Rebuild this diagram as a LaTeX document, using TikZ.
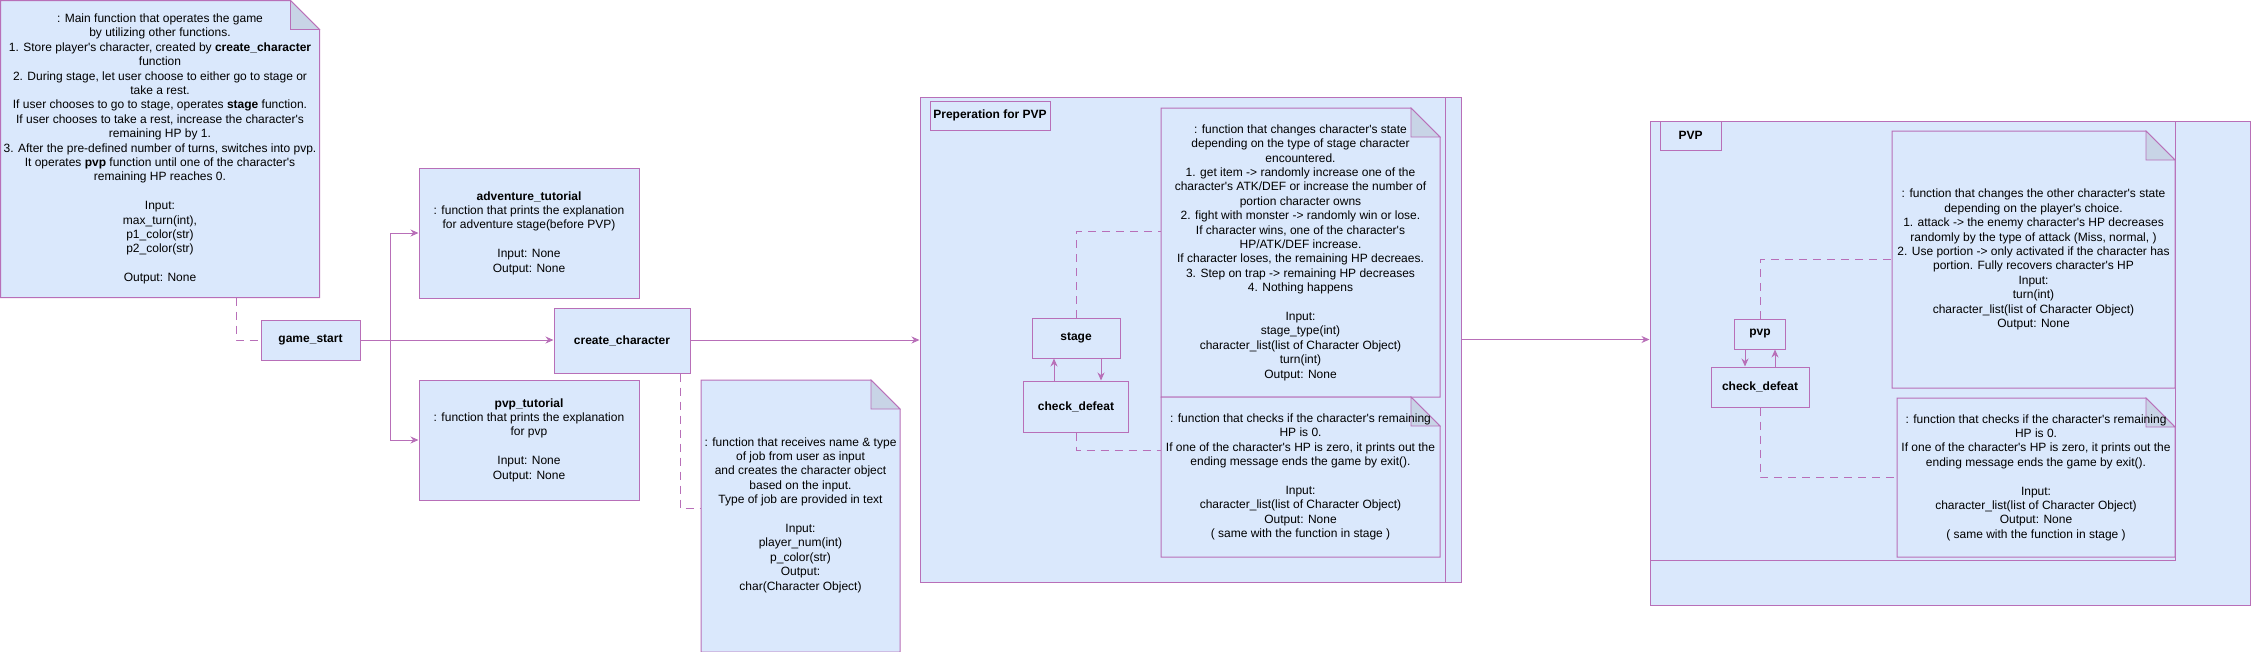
\documentclass[tikz,border=0pt]{standalone}
\usepackage{fontspec}
\setmainfont{Liberation Sans}[Ligatures=TeXOff]
\usetikzlibrary{arrows.meta, positioning}
\definecolor{fnfill}{HTML}{DAE8FC}
\definecolor{fnline}{HTML}{B86FB8}
\definecolor{fnfold}{HTML}{C8D4E6}

\tikzset{
  fbox/.style={draw=fnline, fill=fnfill, line width=1pt, inner sep=0pt, align=center},
  fname/.style={fbox, font=\fontsize{12}{14.4}\selectfont\bfseries},
  lane/.style={draw=fnline, fill=fnfill, line width=1pt, inner sep=0pt},
  notearea/.style={inner sep=0pt, outer sep=0pt},
  notetext/.style={align=center, inner sep=0pt},
  flow/.style={draw=fnline, line width=1pt, -{Stealth[length=8pt,width=7pt]}},
  link/.style={draw=fnline, line width=1pt, dash pattern=on 8pt off 6pt},
}

% note outline with folded corner, drawn round an empty node
\newcommand{\foldnote}[1]{%
  \filldraw[draw=fnline, fill=fnfill, line width=1pt]
    (#1.south west) -- (#1.north west) -- ([xshift=-29pt]#1.north east)
    -- ([yshift=-29pt]#1.north east) -- (#1.south east) -- cycle;
  \filldraw[draw=fnline, fill=fnfold, line width=0.8pt]
    ([xshift=-29pt]#1.north east) -- ([xshift=-29pt,yshift=-29pt]#1.north east)
    -- ([yshift=-29pt]#1.north east) -- cycle;
}

\begin{document}
\begin{tikzpicture}[x=1pt, y=-1pt, font=\fontsize{12}{14.4}\selectfont]
  \useasboundingbox (0,0) rectangle (2251,651);

  % Containers
  \node[lane, minimum width=541pt, minimum height=485pt] (prepouter) at (1190.5,339.5) {};
  \node[lane, minimum width=525pt, minimum height=485pt] (prep) at (1182.5,339.5) {};
  \node[fname, minimum width=120pt, minimum height=29pt] (preplabel) at (990,115.5) {Preperation for PVP};

  \node[lane, minimum width=600pt, minimum height=484pt] (pvpouter) at (1950,363) {};
  \node[lane, minimum width=525pt, minimum height=439pt] (pvparea) at (1912.5,340.5) {};
  \node[fname, minimum width=61pt, minimum height=29pt] (pvplabel) at (1690.5,135.5) {PVP};

  % Main function note
  \node[notearea, minimum width=319pt, minimum height=297pt] (mainnote) at (160,149) {};
  \foldnote{mainnote}
  \node[notetext] at (mainnote) {: Main function that operates the game\\
    by utilizing other functions.\\
    1. Store player's character, created by \textbf{create\_character}\\
    function\\
    2. During stage, let user choose to either go to stage or\\
    take a rest.\\
    If user chooses to go to stage, operates \textbf{stage} function.\\
    If user chooses to take a rest, increase the character's\\
    remaining HP by 1.\\
    3. After the pre-defined number of turns, switches into pvp.\\
    It operates \textbf{pvp} function until one of the character's\\
    remaining HP reaches 0.\\[14.4pt]
    Input:\\
    max\_turn(int),\\
    p1\_color(str)\\
    p2\_color(str)\\[14.4pt]
    Output: None};

  % Functions
  \node[fname, minimum width=99pt, minimum height=40pt] (gamestart) at (310.5,340) {game\_start};
  \node[fname, minimum width=136pt, minimum height=65pt] (createchar) at (622,340.5) {create\_character};

  \node[fbox, minimum width=220pt, minimum height=130pt] (advtut) at (529,233)
    {\textbf{adventure\_tutorial}\\
     : function that prints the explanation\\
     for adventure stage(before PVP)\\[14.4pt]
     Input: None\\
     Output: None};
  \node[fbox, minimum width=220pt, minimum height=120pt] (pvptut) at (529,440)
    {\textbf{pvp\_tutorial}\\
     : function that prints the explanation\\
     for pvp\\[14.4pt]
     Input: None\\
     Output: None};

  % create_character note
  \node[notearea, minimum width=199pt, minimum height=272pt] (charnote) at (800.5,516) {};
  \foldnote{charnote}
  \node[notetext] at (800.5,515) {: function that receives name \& type\\
    of job from user as input\\
    and creates the character object\\
    based on the input.\\
    Type of job are provided in text\\[14.4pt]
    Input:\\
    player\_num(int)\\
    p\_color(str)\\
    Output:\\
    char(Character Object)};

  % Preperation for PVP
  \node[fname, minimum width=88pt, minimum height=40pt] (stage) at (1076,338) {stage};
  \node[fname, minimum width=105pt, minimum height=51pt, below=22pt of stage] (stagecheck) {check\_defeat};

  \node[notearea, minimum width=279pt, minimum height=289pt] (stagenote) at (1300.5,252.5) {};
  \foldnote{stagenote}
  \node[notetext] at (stagenote) {: function that changes character's state\\
    depending on the type of stage character\\
    encountered.\\
    1. get item -> randomly increase one of the\\
    character's ATK/DEF or increase the number of\\
    portion character owns\\
    2. fight with monster -> randomly win or lose.\\
    If character wins, one of the character's\\
    HP/ATK/DEF increase.\\
    If character loses, the remaining HP decreaes.\\
    3. Step on trap -> remaining HP decreases\\
    4. Nothing happens\\[14.4pt]
    Input:\\
    stage\_type(int)\\
    character\_list(list of Character Object)\\
    turn(int)\\
    Output: None};

  \node[notearea, minimum width=279pt, minimum height=160pt, below=0pt of stagenote] (stagechecknote) {};
  \foldnote{stagechecknote}
  \node[notetext] at (stagechecknote) {: function that checks if the character's remaining\\
    HP is 0.\\
    If one of the character's HP is zero, it prints out the\\
    ending message ends the game by exit().\\[14.4pt]
    Input:\\
    character\_list(list of Character Object)\\
    Output: None\\
    ( same with the function in stage )};

  % PVP
  \node[fname, minimum width=51pt, minimum height=30pt] (pvp) at (1760,334) {pvp};
  \node[fname, minimum width=98pt, minimum height=40pt, below=17pt of pvp] (pvpcheck) {check\_defeat};

  \node[notearea, minimum width=283pt, minimum height=257pt] (pvpnote) at (2033.5,259.5) {};
  \foldnote{pvpnote}
  \node[notetext] at (pvpnote) {: function that changes the other character's state\\
    depending on the player's choice.\\
    1. attack -> the enemy character's HP decreases\\
    randomly by the type of attack (Miss, normal, )\\
    2. Use portion -> only activated if the character has\\
    portion. Fully recovers character's HP\\
    Input:\\
    turn(int)\\
    character\_list(list of Character Object)\\
    Output: None};

  \node[notearea, minimum width=278pt, minimum height=159pt] (pvpchecknote) at (2036,477.5) {};
  \foldnote{pvpchecknote}
  \node[notetext] at (pvpchecknote) {: function that checks if the character's remaining\\
    HP is 0.\\
    If one of the character's HP is zero, it prints out the\\
    ending message ends the game by exit().\\[14.4pt]
    Input:\\
    character\_list(list of Character Object)\\
    Output: None\\
    ( same with the function in stage )};

  % Flow
  \draw[flow] (gamestart.east) -- (gamestart.east -| createchar.west);
  \draw[flow] (gamestart.east) -- ++(30,0) |- (advtut.west);
  \draw[flow] (gamestart.east) -- ++(30,0) |- (pvptut.west);
  \draw[flow] (gamestart.east -| createchar.east) -- (gamestart.east -| prep.west);
  \draw[flow] (prepouter.east) -- (pvpouter.west |- prepouter.east);
  \draw[flow] ([xshift=-22pt]stagecheck.north) -- ([xshift=-22pt]stage.south);
  \draw[flow] ([xshift=25pt]stage.south) -- ([xshift=25pt]stagecheck.north);
  \draw[flow] ([xshift=-15pt]pvp.south) -- ([xshift=-15pt]pvpcheck.north);
  \draw[flow] ([xshift=15pt]pvpcheck.north) -- ([xshift=15pt]pvp.south);

  % Note links
  \draw[link] ([xshift=76pt]mainnote.south) |- (gamestart.west);
  \draw[link] ([xshift=58pt]createchar.south) |- ([yshift=8pt]charnote.west);
  \draw[link] (stage.north) |- ([yshift=21pt]stagenote.west);
  \draw[link] (stagecheck.south) |- ([yshift=27pt]stagechecknote.west);
  \draw[link] (pvp.north) |- (pvpnote.west);
  \draw[link] (pvpcheck.south) |- (pvpchecknote.west);
\end{tikzpicture}
\end{document}
